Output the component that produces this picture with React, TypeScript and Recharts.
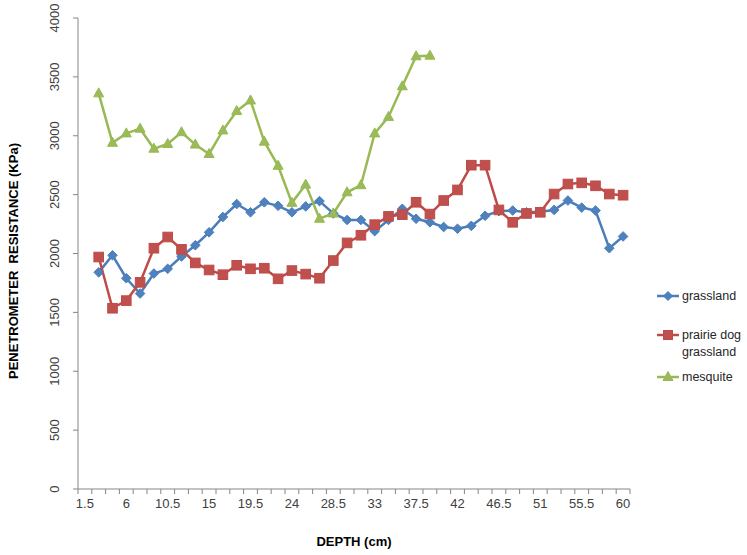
import React from 'react';
import { LineChart, Line, XAxis, YAxis, Legend, Label } from 'recharts';

const depths = [1.5, 3, 4.5, 6, 7.5, 9, 10.5, 12, 13.5, 15, 16.5, 18, 19.5, 21, 22.5, 24, 25.5, 27, 28.5, 30, 31.5, 33, 34.5, 36, 37.5, 39, 40.5, 42, 43.5, 45, 46.5, 48, 49.5, 51, 52.5, 54, 55.5, 57, 58.5, 60];

const grassland = [null, 1840, 1985, 1790, 1660, 1830, 1870, 1975, 2070, 2180, 2310, 2420, 2350, 2435, 2405, 2350, 2400, 2445, 2340, 2285, 2285, 2190, 2285, 2380, 2295, 2265, 2225, 2210, 2235, 2320, 2360, 2365, 2350, 2355, 2370, 2450, 2390, 2365, 2045, 2145];

const prairieDog = [null, 1970, 1535, 1600, 1755, 2045, 2140, 2035, 1920, 1860, 1820, 1900, 1870, 1875, 1785, 1855, 1825, 1790, 1940, 2090, 2155, 2245, 2315, 2330, 2435, 2335, 2450, 2540, 2750, 2750, 2370, 2265, 2340, 2350, 2505, 2590, 2600, 2575, 2505, 2495];

const mesquite = [null, 3360, 2940, 3020, 3060, 2890, 2930, 3030, 2925, 2845, 3045, 3210, 3300, 2950, 2745, 2430, 2585, 2295, 2340, 2520, 2580, 3020, 3160, 3420, 3675, 3680, null, null, null, null, null, null, null, null, null, null, null, null, null, null];

const xLabelTicks = [1.5, 6, 10.5, 15, 19.5, 24, 28.5, 33, 37.5, 42, 46.5, 51, 55.5, 60];
const xBoundaryTicks = [0.75, 2.25, 3.75, 5.25, 6.75, 8.25, 9.75, 11.25, 12.75, 14.25, 15.75, 17.25, 18.75, 20.25, 21.75, 23.25, 24.75, 26.25, 27.75, 29.25, 30.75, 32.25, 33.75, 35.25, 36.75, 38.25, 39.75, 41.25, 42.75, 44.25, 45.75, 47.25, 48.75, 50.25, 51.75, 53.25, 54.75, 56.25, 57.75, 59.25, 60.75];
const yTicks = [0, 500, 1000, 1500, 2000, 2500, 3000, 3500, 4000];

const allXTicks = [...xBoundaryTicks, ...xLabelTicks].sort((a, b) => a - b);

const data = depths.map((d, i) => ({
  depth: d,
  grassland: grassland[i],
  prairie: prairieDog[i],
  mesquite: mesquite[i],
}));

const BLUE = '#4A7EBB';
const BLUE_FILL = '#4F81BD';
const RED = '#BE4B48';
const RED_FILL = '#C0504D';
const GREEN = '#98B954';
const GREEN_FILL = '#9BBB59';
const AXIS = '#868686';
const FONT = '"Liberation Sans", Arial, sans-serif';

const diamond = (cx: number, cy: number, r: number) =>
  `${cx},${cy - r} ${cx + r},${cy} ${cx},${cy + r} ${cx - r},${cy}`;
const triangle = (cx: number, cy: number) =>
  `${cx},${cy - 5.5} ${cx + 5},${cy + 3.5} ${cx - 5},${cy + 3.5}`;

const DiamondDot = (props: any) => {
  const { cx, cy, index } = props;
  if (cx == null || cy == null || props.value == null) return <g key={`gd-${index}`} />;
  return <polygon key={`gd-${index}`} points={diamond(cx, cy, 4.8)} fill={BLUE_FILL} stroke={BLUE} strokeWidth={1} />;
};
const SquareDot = (props: any) => {
  const { cx, cy, index } = props;
  if (cx == null || cy == null || props.value == null) return <g key={`pd-${index}`} />;
  return <rect key={`pd-${index}`} x={cx - 4.8} y={cy - 4.8} width={9.6} height={9.6} fill={RED_FILL} stroke={RED} strokeWidth={1} />;
};
const TriangleDot = (props: any) => {
  const { cx, cy, index } = props;
  if (cx == null || cy == null || props.value == null) return <g key={`md-${index}`} />;
  return <polygon key={`md-${index}`} points={triangle(cx, cy)} fill={GREEN_FILL} stroke={GREEN} strokeWidth={1} />;
};

const XTick = (props: any) => {
  const { x, y, payload } = props;
  const v = payload.value;
  const isBoundary = xBoundaryTicks.includes(v);
  const isLabel = xLabelTicks.includes(v);
  return (
    <g>
      {isBoundary && <line x1={x} x2={x} y1={y} y2={y + 5} stroke={AXIS} strokeWidth={1} />}
      {isLabel && (
        <text x={x} y={y + 10} dy="0.71em" textAnchor="middle" fontSize={13} fontFamily={FONT} fill="#404040">
          {v}
        </text>
      )}
    </g>
  );
};

const YTick = (props: any) => {
  const { x, y, payload } = props;
  return (
    <text x={x} y={y} transform={`rotate(-90, ${x}, ${y})`} textAnchor="middle" fontSize={13} fontFamily={FONT} fill="#404040">
      {payload.value}
    </text>
  );
};

const YTitle = () => {
  const cy = 261;
  const cx = 13;
  return (
    <text x={cx} y={cy} transform={`rotate(-90, ${cx}, ${cy})`} textAnchor="middle" dominantBaseline="central" fontSize={13} fontWeight="bold" fontFamily={FONT} fill="#000" style={{ whiteSpace: 'pre' }}>
      {'PENETROMETER  RESISTANCE (KPa)'}
    </text>
  );
};

const legendItems = [
  { lines: ['grassland'], color: BLUE, fill: BLUE_FILL, kind: 'diamond', y: 16 },
  { lines: ['prairie dog', 'grassland'], color: RED, fill: RED_FILL, kind: 'square', y: 55 },
  { lines: ['mesquite'], color: GREEN, fill: GREEN_FILL, kind: 'triangle', y: 97 },
];

const LegendContent = () => (
  <svg width={107} height={115} style={{ position: 'absolute', left: 0, top: 0, overflow: 'visible' }}>
    {legendItems.map((it) => (
      <g key={it.kind}>
        <line x1={17} x2={39} y1={it.y} y2={it.y} stroke={it.color} strokeWidth={2.5} />
        {it.kind === 'diamond' && <polygon points={diamond(28, it.y, 4.5)} fill={it.fill} stroke={it.color} />}
        {it.kind === 'square' && <rect x={23.5} y={it.y - 4.5} width={9} height={9} fill={it.fill} stroke={it.color} />}
        {it.kind === 'triangle' && <polygon points={triangle(28, it.y)} fill={it.fill} stroke={it.color} />}
        {it.lines.map((ln, k) => (
          <text key={ln + k} x={42} y={it.y + k * 17} dominantBaseline="central" fontSize={12.5} fontFamily={FONT} fill="#262626">
            {ln}
          </text>
        ))}
      </g>
    ))}
  </svg>
);

export default function App() {
  return (
    <div style={{ position: 'absolute', left: 0, top: 0, width: 747, height: 555, background: '#fff' }}>
      <LineChart width={747} height={555} data={data} margin={{ top: 18, right: 117, bottom: 0, left: 0 }}>
        <XAxis
          type="number"
          dataKey="depth"
          domain={[0.75, 60.75]}
          ticks={allXTicks}
          interval={0}
          tick={<XTick />}
          tickSize={0}
          tickMargin={0}
          tickLine={false}
          axisLine={{ stroke: AXIS }}
          height={66}
          allowDataOverflow
        >
          <Label value="DEPTH (cm)" position="insideBottom" offset={9} fontSize={13} fontWeight="bold" fontFamily={FONT} fill="#000" />
        </XAxis>
        <YAxis
          type="number"
          domain={[0, 4000]}
          ticks={yTicks}
          interval={0}
          width={78}
          tickSize={5}
          tickMargin={14}
          tick={<YTick />}
          stroke={AXIS}
          tickLine={{ stroke: AXIS }}
          axisLine={{ stroke: AXIS }}
        >
          <Label content={<YTitle />} position="insideLeft" />
        </YAxis>
        <Legend
          content={<LegendContent />}
          wrapperStyle={{ position: 'absolute', left: 640, top: 280, width: 0, height: 0, overflow: 'visible' }}
        />
        <Line type="linear" dataKey="grassland" stroke={BLUE} strokeWidth={2.5} dot={<DiamondDot />} activeDot={false} isAnimationActive={false} connectNulls={false} />
        <Line type="linear" dataKey="prairie" stroke={RED} strokeWidth={2.5} dot={<SquareDot />} activeDot={false} isAnimationActive={false} connectNulls={false} />
        <Line type="linear" dataKey="mesquite" stroke={GREEN} strokeWidth={2.5} dot={<TriangleDot />} activeDot={false} isAnimationActive={false} connectNulls={false} />
      </LineChart>
    </div>
  );
}
